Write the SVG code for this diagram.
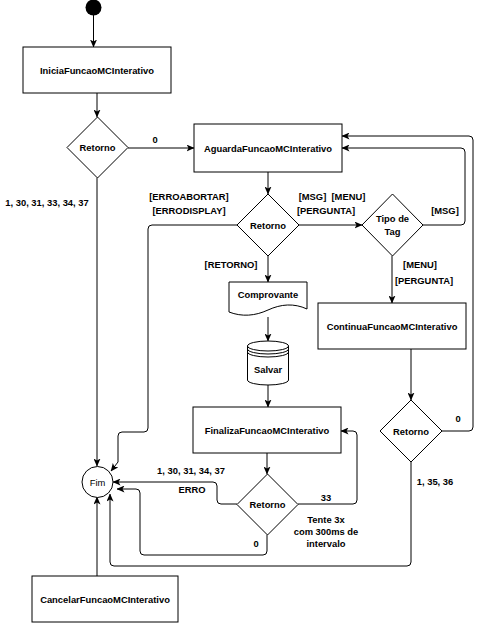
<svg xmlns="http://www.w3.org/2000/svg" width="480" height="623" viewBox="0 0 480 623">
<style>
.box{fill:#fff;stroke:#000;stroke-width:1}
.t{font-family:"Liberation Sans",Arial,sans-serif;font-size:9.4px;font-weight:bold;fill:#000;text-anchor:middle;dominant-baseline:central}
.n{font-weight:normal}
.e{fill:none;stroke:#000;stroke-width:1;stroke-linejoin:round}
</style>
<defs>
<marker id="a" viewBox="0 0 8 7" refX="7.5" refY="3.5" markerWidth="8" markerHeight="7" markerUnits="userSpaceOnUse" orient="auto">
<path d="M0,0 L8,3.5 L0,7 L2,3.5 z" fill="#000"/>
</marker>
</defs>
<rect width="480" height="623" fill="#fff"/>
<g id="connectors">
<path class="e" marker-end="url(#a)" d="M93.5,15 V47"/>
<path class="e" marker-end="url(#a)" d="M97,93 V117"/>
<path class="e" marker-end="url(#a)" d="M128,148 H194"/>
<path class="e" marker-end="url(#a)" d="M97,178 V466"/>
<path class="e" marker-end="url(#a)" d="M268,172 V194"/>
<path class="e" marker-end="url(#a)" d="M299,225 H362"/>
<path class="e" marker-end="url(#a)" d="M423,225 H461 Q465,225 465,221 V152 Q465,148 461,148 H342"/>
<path class="e" marker-end="url(#a)" d="M237,225 H152 Q148,225 148,229 V428 Q148,432 144,432 H122 Q118,432 118,436 V462 L111,471"/>
<path class="e" marker-end="url(#a)" d="M268,256 V282"/>
<path class="e" marker-end="url(#a)" d="M268,317 V341"/>
<path class="e" marker-end="url(#a)" d="M268,385 V407"/>
<path class="e" marker-end="url(#a)" d="M267,453 V474"/>
<path class="e" marker-end="url(#a)" d="M298,504 H353 Q357,504 357,500 V435 Q357,431 353,431 H341"/>
<path class="e" marker-end="url(#a)" d="M237,504 H221 Q217,504 217,500 V486 Q217,482 213,482 H113"/>
<path class="e" marker-end="url(#a)" d="M267,535 V551 Q267,555 263,555 H144 Q140,555 140,551 V493 Q140,489 136,489 H117"/>
<path class="e" marker-end="url(#a)" d="M392,256 V303"/>
<path class="e" marker-end="url(#a)" d="M411,349 V400"/>
<path class="e" marker-end="url(#a)" d="M442,431 H469 Q473,431 473,427 V140 Q473,136 469,136 H342"/>
<path class="e" marker-end="url(#a)" d="M411,462 V562 Q411,566 407,566 H114 Q110,566 110,562 V494"/>
<path class="e" marker-end="url(#a)" d="M97,576 V497"/>
</g>
<g id="labels">
<text class="t" x="155" y="139">0</text>
<text class="t" x="47" y="202">1, 30, 31, 33, 34, 37</text>
<text class="t" x="189" y="196">[ERROABORTAR]</text>
<text class="t" x="189" y="210">[ERRODISPLAY]</text>
<text class="t" x="332" y="196">[MSG]&#160; [MENU]</text>
<text class="t" x="326" y="210">[PERGUNTA]</text>
<text class="t" x="445" y="210">[MSG]</text>
<text class="t" x="231" y="264">[RETORNO]</text>
<text class="t" x="420" y="264">[MENU]</text>
<text class="t" x="424" y="280">[PERGUNTA]</text>
<text class="t" x="458" y="418">0</text>
<text class="t" x="435" y="481">1, 35, 36</text>
<text class="t" x="191" y="470">1, 30, 31, 34, 37</text>
<text class="t" x="192" y="489">ERRO</text>
<text class="t" x="326" y="497">33</text>
<text class="t" x="256" y="543">0</text>
<text class="t" x="326" y="519">Tente 3x</text>
<text class="t" x="326" y="531">com 300ms de</text>
<text class="t" x="326" y="543">intervalo</text>
</g>
<g id="start"><circle cx="93.5" cy="7.5" r="8" fill="#000"/></g>
<g id="inicia"><rect class="box" x="23" y="47" width="148" height="46"/><text class="t" x="97" y="70">IniciaFuncaoMCInterativo</text></g>
<g id="retorno1"><path class="box" d="M97.5,117 L128,147.5 L97.5,178 L67,147.5 Z"/><text class="t" x="97.5" y="147.5">Retorno</text></g>
<g id="aguarda"><rect class="box" x="194" y="124" width="148" height="48"/><text class="t" x="268" y="148">AguardaFuncaoMCInterativo</text></g>
<g id="retorno2"><path class="box" d="M268,194 L299,225 L268,256 L237,225 Z"/><text class="t" x="268" y="225">Retorno</text></g>
<g id="tipotag"><path class="box" d="M392.5,194 L423,225 L392.5,256 L362,225 Z"/><text class="t" x="392.5" y="218.5">Tipo de</text><text class="t" x="392.5" y="231.5">Tag</text></g>
<g id="comprovante"><path class="box" d="M229,282 H307 V309 C294,303 281,304 268,310 C255,316 242,317 229,312 Z"/><text class="t" x="268" y="294">Comprovante</text></g>
<g id="salvar"><path class="box" d="M247.5,346 A20.5,5 0 0 1 288.5,346 V380 A20.5,5 0 0 1 247.5,380 Z"/><path class="e" d="M247.5,346 A20.5,5 0 0 0 288.5,346 M247.5,349 A20.5,5 0 0 0 288.5,349 M247.5,352 A20.5,5 0 0 0 288.5,352"/><text class="t" x="268" y="369">Salvar</text></g>
<g id="finaliza"><rect class="box" x="193" y="407" width="148" height="46"/><text class="t" x="267" y="430">FinalizaFuncaoMCInterativo</text></g>
<g id="retorno3"><path class="box" d="M267.5,474 L298,504.5 L267.5,535 L237,504.5 Z"/><text class="t" x="267.5" y="504.5">Retorno</text></g>
<g id="continua"><rect class="box" x="318" y="303" width="148" height="46"/><text class="t" x="392" y="326">ContinuaFuncaoMCInterativo</text></g>
<g id="retorno4"><path class="box" d="M411,400 L442,431 L411,462 L380,431 Z"/><text class="t" x="411" y="431">Retorno</text></g>
<g id="fim"><circle class="box" cx="97.5" cy="482" r="15.5"/><text class="t n" x="97.5" y="482">Fim</text></g>
<g id="cancelar"><rect class="box" x="32" y="576" width="146" height="46"/><text class="t" x="105" y="599">CancelarFuncaoMCInterativo</text></g>
</svg>
